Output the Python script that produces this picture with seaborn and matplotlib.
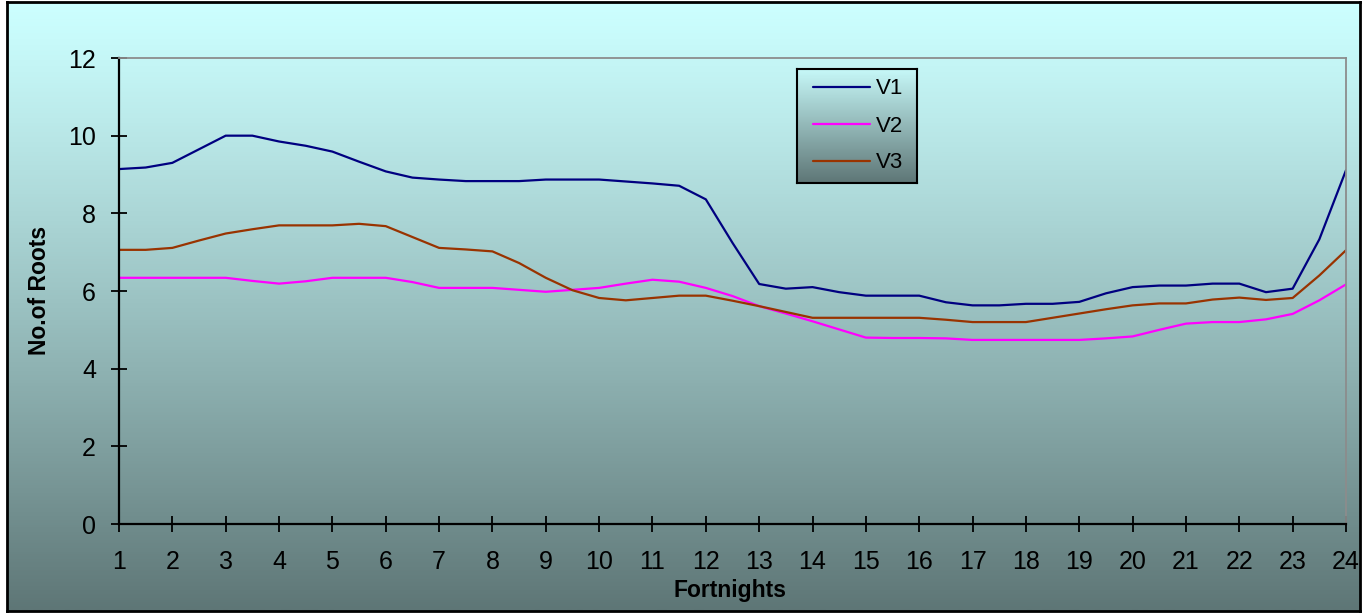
import numpy as np
import pandas as pd
import matplotlib
matplotlib.use("Agg")
import matplotlib.pyplot as plt
from matplotlib.colors import LinearSegmentedColormap
from matplotlib.lines import Line2D
import seaborn as sns

# Root counts per variety, sampled every half fortnight
fortnights = np.arange(1, 24.5, 0.5)
v1 = [9.14, 9.18, 9.30, 9.65, 10.00, 10.00, 9.85, 9.74, 9.59, 9.33,
      9.08, 8.92, 8.87, 8.83, 8.83, 8.83, 8.87, 8.87, 8.87, 8.82,
      8.77, 8.71, 8.36, 7.24, 6.18, 6.06, 6.10, 5.97, 5.88, 5.88,
      5.88, 5.71, 5.63, 5.63, 5.67, 5.67, 5.72, 5.94, 6.10, 6.14,
      6.14, 6.19, 6.19, 5.97, 6.06, 7.33, 9.11]
v2 = [6.34, 6.34, 6.34, 6.34, 6.34, 6.26, 6.19, 6.25, 6.34, 6.34,
      6.34, 6.23, 6.08, 6.08, 6.08, 6.03, 5.98, 6.03, 6.08, 6.19,
      6.29, 6.24, 6.08, 5.87, 5.61, 5.42, 5.22, 5.01, 4.80, 4.79,
      4.79, 4.78, 4.74, 4.74, 4.74, 4.74, 4.74, 4.78, 4.83, 5.00,
      5.16, 5.20, 5.20, 5.27, 5.41, 5.76, 6.17]
v3 = [7.06, 7.06, 7.11, 7.30, 7.48, 7.59, 7.69, 7.69, 7.69, 7.73,
      7.67, 7.39, 7.11, 7.07, 7.02, 6.72, 6.34, 6.02, 5.82, 5.76,
      5.82, 5.88, 5.88, 5.75, 5.61, 5.46, 5.31, 5.31, 5.31, 5.31,
      5.31, 5.26, 5.20, 5.20, 5.20, 5.31, 5.42, 5.53, 5.63, 5.68,
      5.68, 5.78, 5.83, 5.77, 5.82, 6.40, 7.05]

series_names = ["V1", "V2", "V3"]
series_colors = ["#000080", "#FF00FF", "#993300"]
x_ticks = list(range(1, 25))
y_ticks = [0, 2, 4, 6, 8, 10, 12]

df = pd.DataFrame({
    "Fortnights": np.tile(fortnights, 3),
    "Roots": v1 + v2 + v3,
    "Variety": np.repeat(series_names, len(fortnights)),
})

sns.set_style("white")
plt.rcParams["font.family"] = ["Liberation Sans", "DejaVu Sans"]
plt.rcParams["text.color"] = "black"
plt.rcParams["axes.labelcolor"] = "black"
plt.rcParams["xtick.color"] = "black"
plt.rcParams["ytick.color"] = "black"

W, H = 1362, 613
fig = plt.figure(figsize=(W / 100, H / 100), dpi=100)
fig.patch.set_facecolor("white")

panel_cmap = LinearSegmentedColormap.from_list("panel", ["#CCFFFF", "#5E7676"])

# Chart panel with vertical gradient fill and black frame
bg = fig.add_axes([7 / W, 2 / H, (1360 - 7) / W, (611 - 2) / H], zorder=0)
grad = np.linspace(0, 1, 512) ** 1.15
bg.imshow(grad[:, None], aspect="auto", cmap=panel_cmap, vmin=0, vmax=1,
          extent=[0, 1, 0, 1], origin="upper")
bg.set_xlim(0, 1)
bg.set_ylim(0, 1)
bg.set_xticks([])
bg.set_yticks([])
for sp in bg.spines.values():
    sp.set_visible(True)
    sp.set_color("black")
    sp.set_linewidth(2)

# Plot area
ax = fig.add_axes([119 / W, 1 - 524 / H, 1227 / W, 466 / H], zorder=1)
ax.patch.set_alpha(0)
sns.lineplot(data=df, x="Fortnights", y="Roots", hue="Variety",
             palette=dict(zip(series_names, series_colors)),
             linewidth=1.6, errorbar=None, legend=False, ax=ax)

ax.set_xlim(1, 24)
ax.set_ylim(0, 12)
ax.set_xticks(x_ticks)
ax.set_yticks(y_ticks)
ax.tick_params(axis="both", which="major", bottom=True, left=True,
               direction="inout", length=12, width=1.3,
               labelsize=18, colors="black")
ax.tick_params(axis="x", pad=13)
ax.tick_params(axis="y", pad=10.5)

for side in ["left", "bottom"]:
    ax.spines[side].set_color("black")
    ax.spines[side].set_linewidth(1.6)
for side in ["top", "right"]:
    ax.spines[side].set_visible(True)
    ax.spines[side].set_color("#8C8C8C")
    ax.spines[side].set_linewidth(1.3)

ax.set_xlabel("Fortnights", fontsize=16.5, fontweight="bold", color="black")
ax.set_ylabel("No.of Roots", fontsize=16.5, fontweight="bold", color="black")
ax.xaxis.set_label_coords(0.498, (524 - 590) / 466)
ax.xaxis.label.set_va("center")
ax.yaxis.set_label_coords((40 - 119) / 1227, (524 - 290) / 466)
ax.yaxis.label.set_va("center")

# Legend box with its own gradient
lg = fig.add_axes([797 / W, 1 - 183 / H, 120 / W, 114 / H], zorder=3)
lg.imshow(np.linspace(0.05, 1, 256)[:, None], aspect="auto", cmap=panel_cmap,
          vmin=0, vmax=1, extent=[0, 1, 0, 1], origin="upper")
lg.set_xlim(0, 1)
lg.set_ylim(0, 1)
lg.set_xticks([])
lg.set_yticks([])
for sp in lg.spines.values():
    sp.set_visible(True)
    sp.set_color("black")
    sp.set_linewidth(1.5)

handles = [Line2D([], [], color=c, linewidth=1.6) for c in series_colors]
leg = lg.legend(handles, series_names, loc="center left",
                bbox_to_anchor=(16 / 120, 0.5), frameon=False, fontsize=16,
                handlelength=2.55, handletextpad=0.3, labelspacing=0.72,
                borderpad=0, borderaxespad=0)
for t in leg.get_texts():
    t.set_color("black")

fig.savefig("out.png", dpi=100, facecolor=fig.get_facecolor())
